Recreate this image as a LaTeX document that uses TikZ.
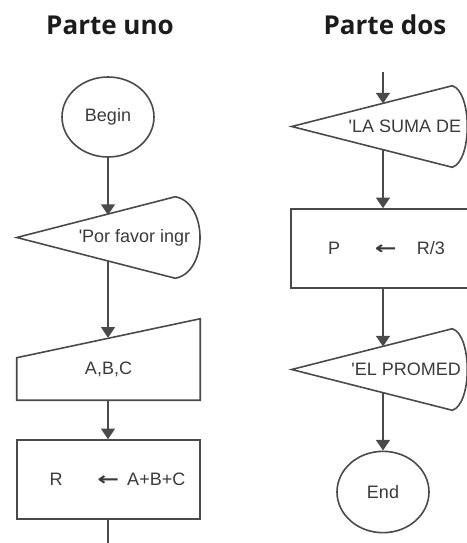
\documentclass[tikz,border=0pt]{standalone}
\usepackage{fontspec}
\setmainfont{Liberation Sans}
\newfontfamily\headfont{Open Sans}
\newfontfamily\arrowfont{DejaVu Sans}
\usetikzlibrary{arrows.meta,calc,shapes.geometric}
\definecolor{ink}{HTML}{4A4A4A}
\definecolor{textink}{HTML}{3A3A3A}
\definecolor{titleink}{HTML}{1C1C1C}
\newcommand{\assign}{{\arrowfont\bfseries\scalebox{1.45}[1]{←}}}

\begin{document}
\begin{tikzpicture}[
  x=0.75pt,
  y=-0.75pt,
  outline/.style={draw=ink, line width=1.2pt},
  flow/.style={draw=ink, line width=1.2pt, -{Triangle[width=10.5pt,length=8pt]}},
  flowtext/.style={text=textink, font=\fontsize{13.5}{16}\selectfont, inner sep=0pt},
  terminal/.style={flowtext, outline, ellipse, minimum width=69pt, minimum height=60pt},
  process/.style={flowtext, outline, rectangle, minimum height=59.25pt},
  hiddenbox/.style={flowtext, rectangle, minimum height=60.75pt},
  heading/.style={text=titleink, anchor=base,
    font=\headfont\bfseries\fontsize{19.5}{22}\selectfont}
]
  \useasboundingbox (0,0) rectangle (467,543);

  % Titles
  \node[heading] (uno) at (110,34) {Parte uno};
  \node[heading] (dos) at (385,34) {Parte dos};

  % Part one
  \node[terminal] (begin) at (108,117) {Begin};

  \node[hiddenbox, minimum width=137.25pt] (d1) at (108.5,237.5)
    {\hspace*{39pt}\textquotesingle Por favor ingr};
  \draw[outline] (d1.west) -- ($(d1.north east)+(-25,0)$)
    .. controls +(33,6) and +(33,-6) .. ($(d1.south east)+(-25,0)$) -- cycle;
  \coordinate (d1 in) at (108,215);
  \coordinate (d1 out) at (108,261);

  \node[flowtext, minimum width=137.25pt, minimum height=46.5pt] (m1) at (108.5,369) {A,B,C};
  \draw[outline] (m1.south west) -- (m1.south east) -- ($(m1.north east)+(0,-19)$)
    -- ($(m1.north west)+(0,20)$) -- cycle;

  \node[process, minimum width=137.25pt] (r1) at (108.5,479.5)
    {\hspace*{13.5pt}R\hspace{26pt}\assign\hspace{6pt}A+B+C};
  \coordinate (r1 tail) at (108,560);

  \draw[flow] (begin.south) -- (d1 in);
  \draw[flow] (d1 out) -- (d1 out |- m1.north);
  \draw[flow] (m1.south -| begin) -- (begin |- r1.north);
  \draw[outline] (r1.south -| begin) -- (r1 tail);

  % Part two
  \coordinate (d2 top) at (383,72);
  \node[hiddenbox, minimum width=131.25pt] (d2) at (379.5,126.5)
    {\hspace*{38pt}\textquotesingle LA SUMA DE};
  \draw[outline] (d2.west) -- ($(d2.north east)+(-15,0)$)
    .. controls +(20,6) and +(20,-6) .. ($(d2.south east)+(-15,0)$) -- cycle;
  \coordinate (d2 in) at (383,103.5);
  \coordinate (d2 out) at (383,149.5);

  \node[process, minimum width=143.25pt] (r2) at (386.5,248.5)
    {P\hspace{26pt}\assign\hspace{15pt}R/3};

  \node[hiddenbox, minimum width=131.25pt] (d3) at (379.5,369.5)
    {\hspace*{40pt}\textquotesingle EL PROMED};
  \draw[outline] (d3.west) -- ($(d3.north east)+(-15,0)$)
    .. controls +(20,6) and +(20,-6) .. ($(d3.south east)+(-15,0)$) -- cycle;
  \coordinate (d3 in) at (383,346.5);
  \coordinate (d3 out) at (383,392.5);

  \node[terminal, minimum height=61pt] (end) at (383,492) {End};

  \draw[flow] (d2 top) -- (d2 in);
  \draw[flow] (d2 out) -- (d2 out |- r2.north);
  \draw[flow] (d2 out |- r2.south) -- (d3 in);
  \draw[flow] (d3 out) -- (end.north);
\end{tikzpicture}
\end{document}
